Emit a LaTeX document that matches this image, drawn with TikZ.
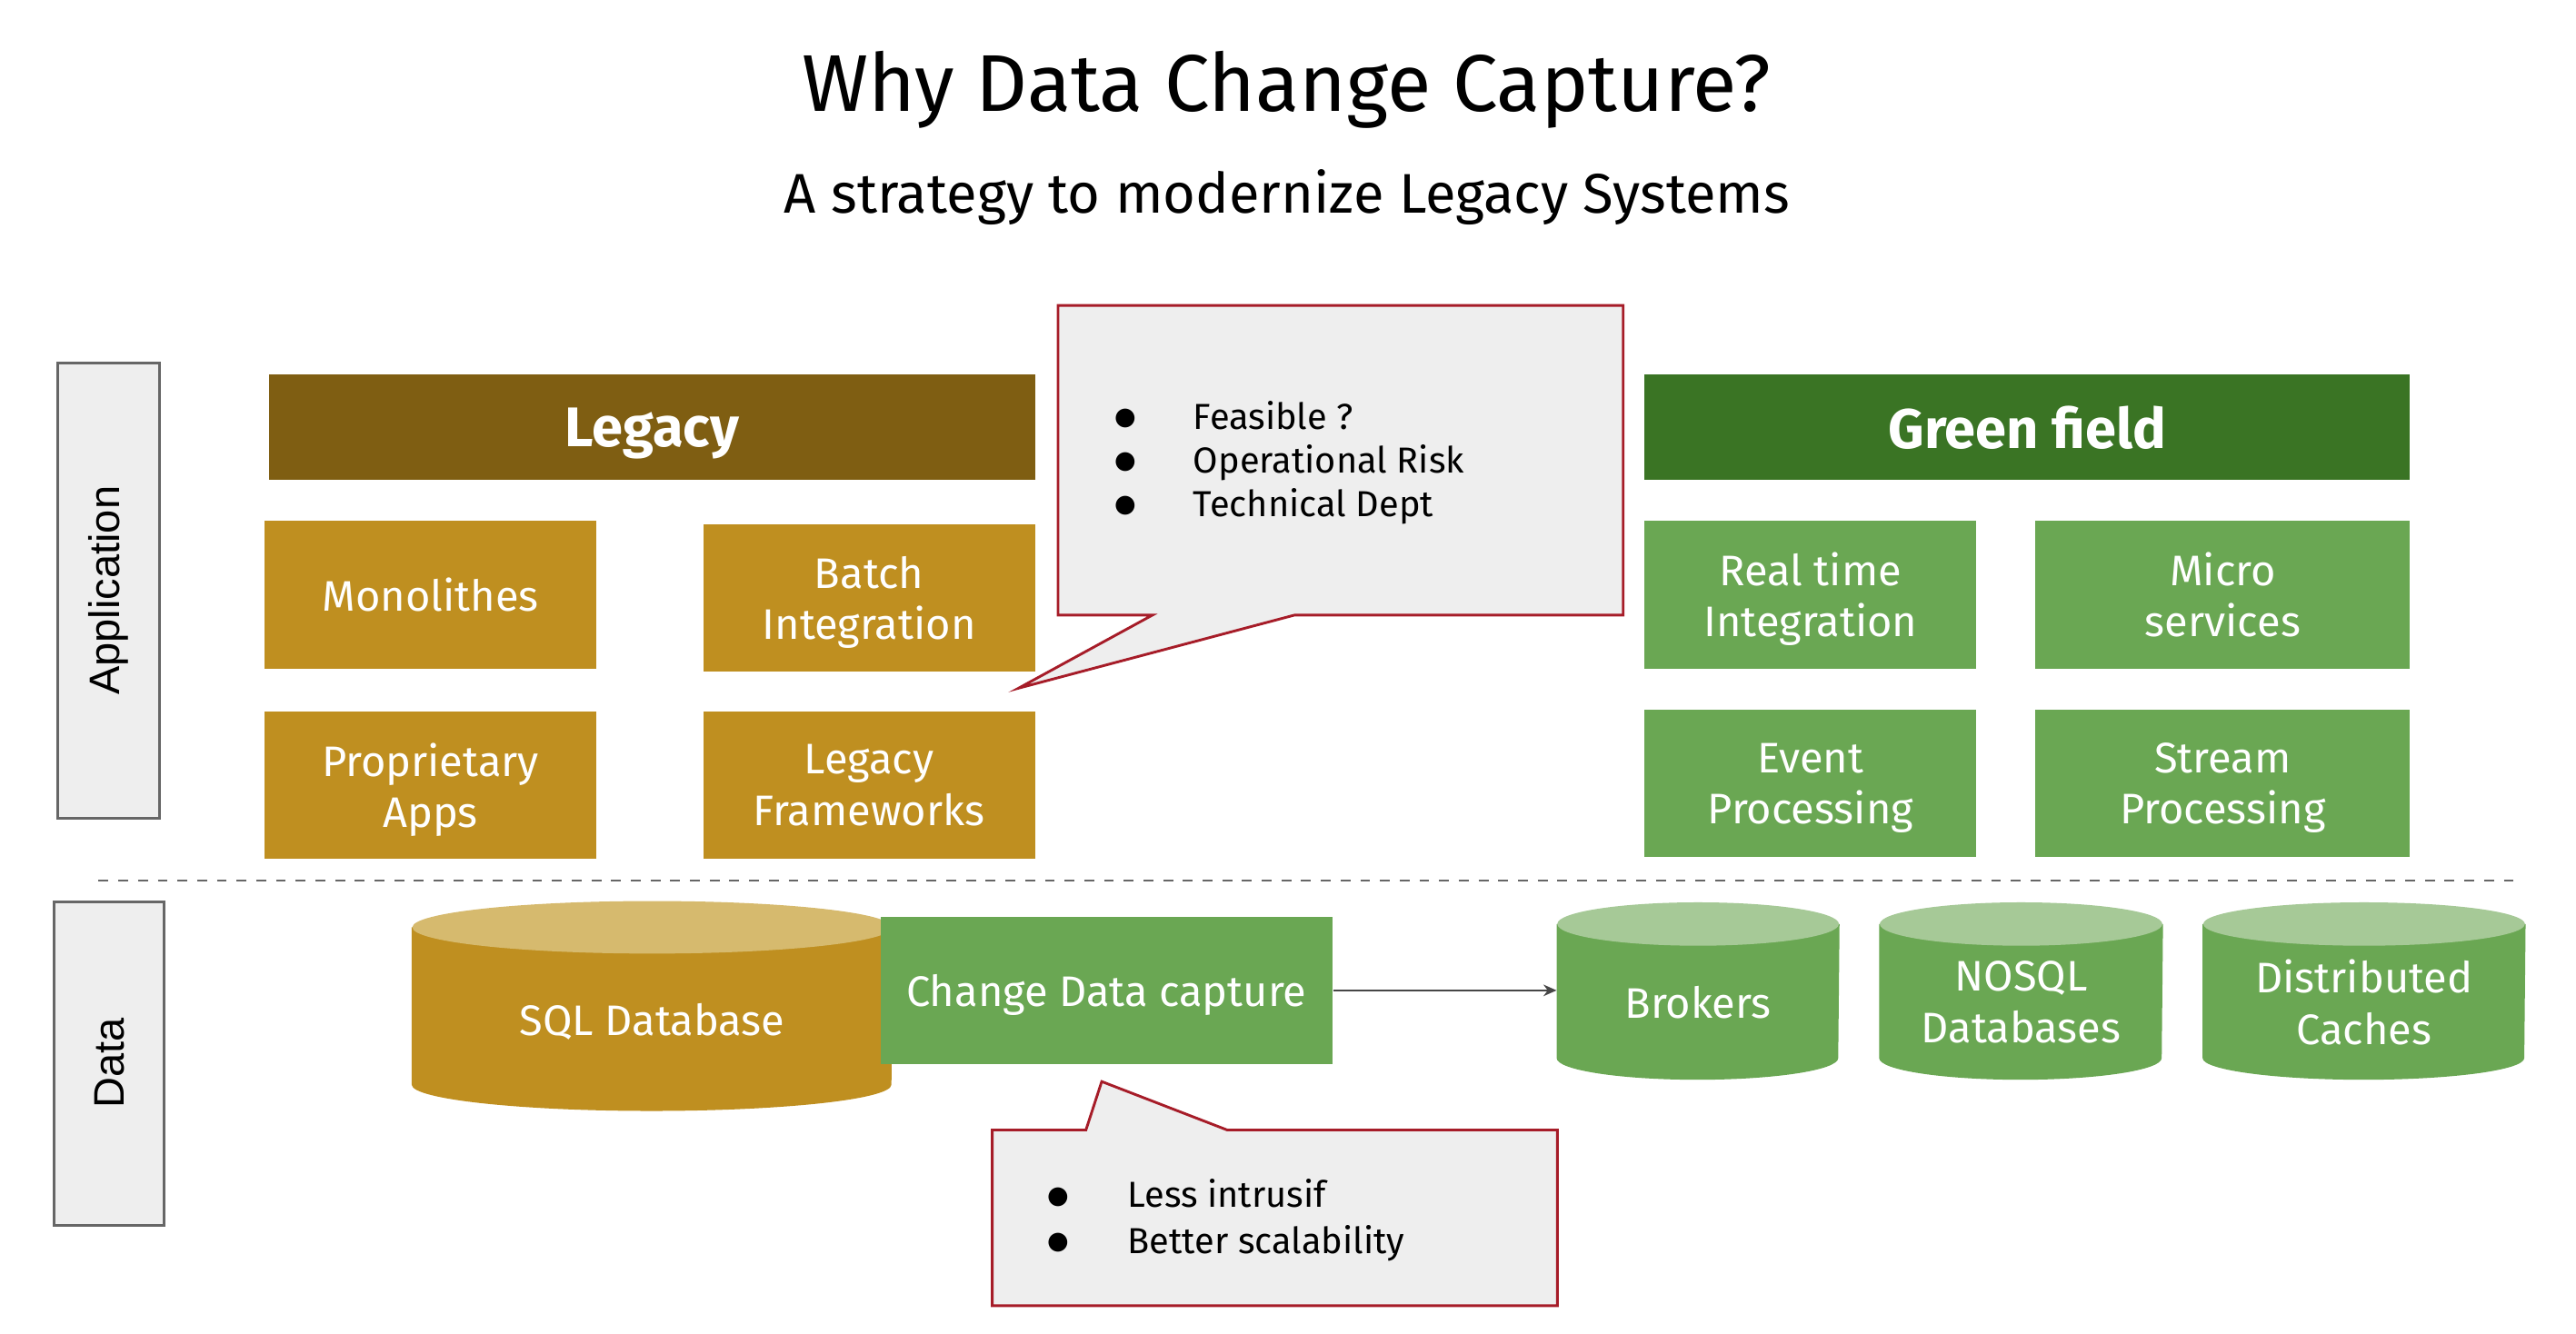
\documentclass[tikz,border=0pt]{standalone}
\usepackage{fontspec}
\setmainfont{Fira Sans}
\newfontfamily\labelfont{Liberation Sans}
\newfontfamily\symfont{DejaVu Sans}
\usetikzlibrary{arrows.meta,backgrounds}

\definecolor{legacydark}{HTML}{7F5E12}
\definecolor{legacygold}{HTML}{BF8F20}
\definecolor{legacylight}{HTML}{D6BA6E}
\definecolor{greendark}{HTML}{3A7424}
\definecolor{greenmid}{HTML}{6AA753}
\definecolor{greenlight}{HTML}{A6C997}
\definecolor{notegray}{HTML}{EEEEEE}
\definecolor{notered}{HTML}{A61C28}
\definecolor{linegray}{HTML}{666666}

\tikzset{
  block/.style={inner sep=0pt, align=center, text=white, text depth=0pt,
    font=\fontsize{13}{15.6}\selectfont},
  legacybox/.style={block, fill=legacygold, minimum width=101pt, minimum height=45pt},
  greenbox/.style={block, fill=greenmid, minimum height=45pt},
  header/.style={inner sep=0pt, text=white, text depth=0pt, minimum width=233pt,
    minimum height=32pt, font=\fontsize{17}{20}\selectfont\bfseries},
  layer/.style={draw=linegray, fill=notegray, line width=0.8pt, rotate=90,
    inner sep=0pt, font=\labelfont\fontsize{13}{15}\selectfont},
  note/.style={draw=notered, fill=notegray, line width=0.8pt},
  notetext/.style={align=left, inner sep=0pt, anchor=west,
    font=\fontsize{11}{13.3}\selectfont},
  flow/.style={draw=linegray!70!black, line width=0.6pt, -{Stealth[length=4pt,width=3.5pt]}}
}

%% bullet of the notes
\newcommand\notebullet{\makebox[24pt][l]{\raisebox{1.3pt}{\symfont\fontsize{7.5}{9}\selectfont ●}}}

%% cylinder behind a text node: name, x radius, y radius, body, top
\newcommand\dbshape[5]{%
  \fill[#4] (#1.north west) -- ([yshift=#3]#1.south west)
    arc[start angle=180, end angle=360, x radius=#2, y radius=#3]
    -- (#1.north east) -- cycle;
  \fill[#5] (#1.north) ellipse[x radius=#2, y radius=#3];}

\begin{document}
\begin{tikzpicture}

\newcommand\RY{-268pt}
\useasboundingbox (0,0) rectangle (784pt,-406.1pt);

  %% titles
  \node[anchor=base, font=\fontsize{24.5}{28}\selectfont] (title) at (391.5pt,-34pt)
  {Why Data Change Capture?};
  \node[anchor=base, font=\fontsize{17}{20}\selectfont] (subtitle) at (391.75pt,-65pt)
  {A strategy to modernize Legacy Systems};

  %% layers
  \node[layer, minimum width=138.5pt, minimum height=31pt] (application)
  at (33pt,-179.75pt) {Application};
  \node[layer, minimum width=98.5pt, minimum height=33.5pt] (data)
  at (33.25pt,-323.75pt) {Data};

  \coordinate (sepL) at (30pt,\RY);
  \coordinate (sepR) at (767.5pt,\RY);
  \draw[linegray, dashed, line width=0.6pt] (sepL) -- (sepR);

  %% legacy side
  \node[header, fill=legacydark] (legacy) at (198.5pt,-130pt) {Legacy};
  \node[legacybox] (mono) at (131pt,-181pt) {Monolithes};
  \node[legacybox] (batch) at (264.5pt,-182pt) {Batch\\Integration};
  \node[legacybox] (prop) at (131pt,-239pt) {Proprietary\\Apps};
  \node[legacybox] (legfw) at (264.5pt,-239pt) {Legacy\\Frameworks};

  %% green field side
  \node[header, fill=greendark] (green) at (617pt,-130pt) {Green field};
  \node[greenbox, minimum width=101pt] (realtime) at (551pt,-181pt) {Real time\\Integration};
  \node[greenbox, minimum width=114pt] (micro) at (676.5pt,-181pt) {Micro\\services};
  \node[greenbox, minimum width=101pt] (event) at (551pt,-238.5pt) {Event\\Processing};
  \node[greenbox, minimum width=114pt] (stream) at (676.5pt,-238.5pt) {Stream\\Processing};

  %% data stores
  \node[block, minimum width=146pt, minimum height=55.5pt] (sql)
  at (198.5pt,-310.25pt) {SQL Database};
  \node[block, fill=greenmid, minimum width=137.5pt, minimum height=45pt] (cdc)
  at (336.75pt,-301.5pt) {Change Data capture};
  \node[block, minimum width=85.7pt, minimum height=47pt] (brokers)
  at (516.8pt,-305pt) {Brokers};
  \node[block, minimum width=86pt, minimum height=47pt] (nosql)
  at (615.1pt,-305pt) {NOSQL\\Databases};
  \node[block, minimum width=97.9pt, minimum height=47pt] (caches)
  at (719.5pt,-305pt) {Distributed\\Caches};

  \draw[flow] (cdc.east) -- (cdc.east -| brokers.west);

  %% notes
  \node[notetext] (risks) at (339pt,-140.9pt)
  {\notebullet Feasible ?\\
   \notebullet Operational Risk\\
   \notebullet Technical Dept};
  \node[notetext, font=\fontsize{11}{14}\selectfont] (gains) at (318.5pt,-371.5pt)
  {\notebullet\hspace{0.5pt}Less intrusif\\
   \notebullet\hspace{0.5pt}Better scalability};

  \begin{scope}[on background layer]
  \dbshape{sql}{73pt}{8pt}{legacygold}{legacylight}
  \dbshape{brokers}{42.85pt}{6.6pt}{greenmid}{greenlight}
  \dbshape{nosql}{43pt}{6.6pt}{greenmid}{greenlight}
  \dbshape{caches}{48.95pt}{6.6pt}{greenmid}{greenlight}

  \draw[note] (322pt,-93pt) -- (494pt,-93pt) -- (494pt,-187.25pt) -- (394pt,-187.25pt)
  -- (310pt,-209.5pt) -- (350.75pt,-187.25pt) -- (322pt,-187.25pt) -- cycle;
  \draw[note] (302pt,-344pt) -- (330.5pt,-344pt) -- (335.3pt,-329.25pt) -- (373.5pt,-344pt)
  -- (474pt,-344pt) -- (474pt,-397.5pt) -- (302pt,-397.5pt) -- cycle;
  \end{scope}

\end{tikzpicture}
\end{document}
